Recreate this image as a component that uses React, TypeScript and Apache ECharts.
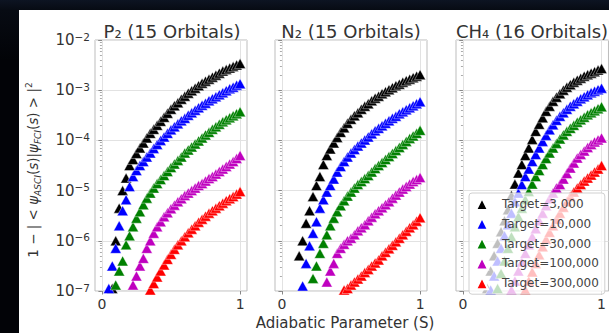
import React, { useEffect, useRef } from "react";
import * as echarts from "echarts";

// Adiabatic parameter grid (shared by all series; each series ends at S = 1)
const S = [
  0, 0.025, 0.05, 0.075, 0.1, 0.125, 0.15, 0.175, 0.2, 0.225, 0.25, 0.275, 0.3,
  0.325, 0.35, 0.375, 0.4, 0.425, 0.45, 0.475, 0.5, 0.525, 0.55, 0.575, 0.6,
  0.625, 0.65, 0.675, 0.7, 0.725, 0.75, 0.775, 0.8, 0.825, 0.85, 0.875, 0.9,
  0.925, 0.95, 0.975, 1.0,
];

const TARGETS = ["Target=3,000", "Target=10,000", "Target=30,000", "Target=100,000", "Target=300,000"];
const COLORS = ["#000000", "#0000ff", "#008000", "#bf00bf", "#ff0000"];
const PANEL_TITLES = ["P₂ (15 Orbitals)", "N₂ (15 Orbitals)", "CH₄ (16 Orbitals)"];
const X_TICKS = [0, 1];

// log10 of infidelity; each list covers the last S values
const p2Target3k = [-6.95, -6.0, -5.35, -5.0, -4.75, -4.5, -4.38, -4.26, -4.15, -4.05, -3.95, -3.86, -3.78, -3.7, -3.62, -3.54, -3.46, -3.38, -3.31, -3.25, -3.18, -3.12, -3.06, -3.01, -2.96, -2.91, -2.86, -2.82, -2.78, -2.74, -2.7, -2.66, -2.62, -2.59, -2.56, -2.53, -2.5, -2.47];
const p2Target10k = [-6.95, -6.5, -6.15, -5.7, -5.4, -5.18, -4.92, -4.72, -4.6, -4.5, -4.42, -4.33, -4.25, -4.16, -4.08, -4.0, -3.93, -3.86, -3.79, -3.73, -3.67, -3.61, -3.56, -3.5, -3.45, -3.4, -3.35, -3.3, -3.26, -3.21, -3.17, -3.13, -3.09, -3.05, -3.01, -2.97, -2.94, -2.9, -2.87];
const p2Target30k = [-6.88, -6.6, -6.4, -6.08, -5.9, -5.72, -5.55, -5.42, -5.28, -5.15, -5.05, -4.95, -4.86, -4.78, -4.7, -4.62, -4.54, -4.47, -4.4, -4.33, -4.25, -4.19, -4.13, -4.07, -4.01, -3.95, -3.89, -3.84, -3.78, -3.73, -3.68, -3.63, -3.59, -3.55, -3.51, -3.47, -3.43];
const p2Target100k = [-6.88, -6.7, -6.5, -6.35, -6.15, -6.0, -5.85, -5.72, -5.62, -5.52, -5.44, -5.36, -5.29, -5.22, -5.16, -5.1, -5.05, -5.0, -4.95, -4.9, -4.86, -4.81, -4.76, -4.72, -4.67, -4.62, -4.57, -4.52, -4.47, -4.42, -4.36, -4.3];
const p2Target300k = [-6.98, -6.85, -6.72, -6.6, -6.48, -6.37, -6.27, -6.17, -6.08, -6.0, -5.92, -5.84, -5.77, -5.7, -5.63, -5.57, -5.51, -5.45, -5.4, -5.35, -5.3, -5.25, -5.2, -5.16, -5.12, -5.07, -5.02];

const n2Target3k = [-6.3, -6.0, -5.65, -5.4, -5.12, -4.9, -4.72, -4.48, -4.3, -4.17, -4.05, -3.94, -3.84, -3.75, -3.66, -3.58, -3.51, -3.45, -3.38, -3.32, -3.27, -3.21, -3.16, -3.12, -3.07, -3.03, -2.99, -2.95, -2.91, -2.88, -2.84, -2.81, -2.78, -2.75, -2.72, -2.69];
const n2Target10k = [-6.9, -6.45, -6.1, -5.85, -5.62, -5.35, -5.18, -5.03, -4.9, -4.77, -4.63, -4.52, -4.42, -4.33, -4.25, -4.18, -4.11, -4.05, -3.99, -3.93, -3.87, -3.81, -3.76, -3.71, -3.66, -3.61, -3.56, -3.52, -3.47, -3.43, -3.39, -3.35, -3.31, -3.27, -3.23];
const n2Target30k = [-6.75, -6.5, -6.25, -6.05, -5.88, -5.7, -5.55, -5.42, -5.3, -5.2, -5.11, -5.03, -4.95, -4.88, -4.82, -4.76, -4.7, -4.63, -4.56, -4.5, -4.44, -4.38, -4.32, -4.26, -4.2, -4.14, -4.08, -4.02, -3.96, -3.91, -3.86, -3.8];
const n2Target100k = [-6.82, -6.6, -6.45, -6.25, -6.15, -6.07, -6.0, -5.95, -5.88, -5.8, -5.74, -5.68, -5.6, -5.53, -5.46, -5.4, -5.34, -5.28, -5.22, -5.15, -5.09, -5.03, -4.97, -4.92, -4.87, -4.82, -4.78, -4.74];
const n2Target300k = [-6.98, -6.95, -6.88, -6.82, -6.76, -6.7, -6.63, -6.57, -6.5, -6.44, -6.38, -6.3, -6.23, -6.16, -6.09, -6.02, -5.95, -5.88, -5.81, -5.74, -5.68, -5.61, -5.54];

const ch4Target3k = [-6.95, -6.6, -6.3, -6.05, -5.82, -5.6, -5.38, -5.1, -4.87, -4.65, -4.48, -4.3, -4.15, -3.98, -3.82, -3.68, -3.55, -3.42, -3.32, -3.22, -3.14, -3.07, -3.0, -2.94, -2.89, -2.84, -2.8, -2.76, -2.72, -2.69, -2.66, -2.63, -2.6, -2.57];
const ch4Target10k = [-6.98, -6.7, -6.4, -6.15, -5.9, -5.68, -5.45, -5.22, -5.05, -4.88, -4.72, -4.57, -4.42, -4.28, -4.15, -4.02, -3.9, -3.79, -3.69, -3.6, -3.52, -3.45, -3.38, -3.32, -3.27, -3.22, -3.17, -3.13, -3.09, -3.05, -3.02, -2.99, -2.96];
const ch4Target30k = [-6.95, -6.65, -6.4, -6.15, -5.92, -5.72, -5.52, -5.35, -5.18, -5.02, -4.87, -4.72, -4.6, -4.48, -4.36, -4.25, -4.15, -4.06, -3.97, -3.89, -3.82, -3.76, -3.7, -3.64, -3.59, -3.54, -3.49, -3.45, -3.41, -3.37, -3.33];
const ch4Target100k = [-6.98, -6.8, -6.6, -6.42, -6.25, -6.08, -5.92, -5.76, -5.6, -5.45, -5.3, -5.16, -5.05, -4.95, -4.88, -4.77, -4.66, -4.55, -4.45, -4.35, -4.28, -4.21, -4.14, -4.08, -4.03, -3.99, -3.95];
const ch4Target300k = [-6.98, -6.8, -6.62, -6.45, -6.28, -6.12, -5.97, -5.83, -5.7, -5.57, -5.45, -5.33, -5.22, -5.12, -5.03, -4.95, -4.88, -4.81, -4.75, -4.69, -4.63, -4.57, -4.5];

const PANELS = [
  [p2Target3k, p2Target10k, p2Target30k, p2Target100k, p2Target300k],
  [n2Target3k, n2Target10k, n2Target30k, n2Target100k, n2Target300k],
  [ch4Target3k, ch4Target10k, ch4Target30k, ch4Target100k, ch4Target300k],
];

const FONT = "DejaVu Sans";
const TEXT = "#333333";

function buildOption() {
  const grids = [
    { left: 76, top: 30, width: 152, height: 251 },
    { left: 256, top: 30, width: 152, height: 251 },
    { left: 437, top: 30, width: 154, height: 251 },
  ].map((g) => ({ ...g, show: true, borderColor: "#bdbdbd", borderWidth: 1, backgroundColor: "#ffffff", containLabel: false }));

  const xAxes = grids.map((_, i) => ({
    type: "value",
    gridIndex: i,
    min: -0.05,
    max: 1.05,
    axisLine: { show: false },
    axisTick: { show: true, customValues: X_TICKS, length: 3.5, lineStyle: { color: "#888" } },
    axisLabel: { show: true, customValues: X_TICKS, fontSize: 14, color: TEXT, fontFamily: FONT, margin: 6 },
    splitLine: { show: true, lineStyle: { color: "#e2e2e2", width: 1 } },
  }));

  const yAxes = grids.map((_, i) => ({
    type: "log",
    logBase: 10,
    gridIndex: i,
    min: 1e-7,
    max: 1e-2,
    axisLine: { show: false },
    axisTick: { show: true, length: 3.5, lineStyle: { color: "#888" } },
    minorTick: { show: true, splitNumber: 9, length: 2, lineStyle: { color: "#aaa" } },
    axisLabel: {
      show: i === 0,
      margin: 5,
      formatter: (v: number) => {
        const e = Math.round(Math.log10(v));
        return `{b|10}{s|−${Math.abs(e)}}`;
      },
      rich: {
        b: { fontSize: 15, lineHeight: 18, color: TEXT, fontFamily: FONT },
        s: { fontSize: 10.5, lineHeight: 10, color: TEXT, fontFamily: FONT, verticalAlign: "top" },
      },
    },
    splitLine: { show: true, lineStyle: { color: "#e2e2e2", width: 1 } },
  }));

  const series: any[] = [];
  PANELS.forEach((panel, p) => {
    panel.forEach((logs, t) => {
      const offset = S.length - logs.length;
      series.push({
        type: "scatter",
        name: TARGETS[t],
        xAxisIndex: p,
        yAxisIndex: p,
        symbol: "triangle",
        symbolSize: [11, 10],
        clip: true,
        silent: true,
        itemStyle: { color: COLORS[t], borderColor: "#ffffff", borderWidth: 0.4, opacity: 1 },
        data: logs.map((e, i) => [S[offset + i], Math.pow(10, e)]),
      });
    });
  });

  const titleCenters = [153, 332, 513];
  const graphics: any[] = PANEL_TITLES.map((t, i) => ({
    type: "text",
    x: titleCenters[i],
    y: 21,
    style: { text: t, fontSize: 18, fontFamily: FONT, fill: TEXT, align: "center", verticalAlign: "middle" },
  }));
  graphics.push({
    type: "text",
    x: 326,
    y: 313,
    style: { text: "Adiabatic Parameter (S)", fontSize: 15, fontFamily: FONT, fill: TEXT, align: "center", verticalAlign: "middle" },
  });
  graphics.push({
    type: "text",
    x: 14,
    y: 160,
    rotation: Math.PI / 2,
    style: {
      text: "{r|1 − | < }{i|ψ}{sub|ASCI}{r|(}{i|s}{r|)|}{i|ψ}{sub|FCI}{r|(}{i|s}{r|) > |}{sup|2}",
      align: "center",
      verticalAlign: "middle",
      fill: TEXT,
      rich: {
        r: { fontSize: 13.5, lineHeight: 18, fontFamily: FONT, fill: TEXT },
        i: { fontSize: 13.5, lineHeight: 18, fontFamily: FONT, fontStyle: "italic", fill: TEXT },
        sub: { fontSize: 9, lineHeight: 11, fontFamily: FONT, fontStyle: "italic", fill: TEXT, verticalAlign: "bottom" },
        sup: { fontSize: 9, lineHeight: 11, fontFamily: FONT, fill: TEXT, verticalAlign: "top" },
      },
    },
  });

  return {
    animation: false,
    backgroundColor: "#ffffff",
    textStyle: { fontFamily: FONT },
    grid: grids,
    xAxis: xAxes,
    yAxis: yAxes,
    legend: {
      data: TARGETS,
      orient: "vertical",
      left: 450,
      top: 183,
      icon: "triangle",
      itemWidth: 12,
      itemHeight: 12,
      itemGap: 5.8,
      padding: [4, 6, 4, 6],
      backgroundColor: "rgba(255,255,255,0.75)",
      borderColor: "#d0d0d0",
      borderWidth: 1,
      borderRadius: 3,
      selectedMode: false,
      textStyle: { fontSize: 12, color: "#444", fontFamily: FONT, padding: [0, 0, 0, 9], lineHeight: 12 },
    },
    graphic: graphics,
    series,
  };
}

export default function App() {
  const ref = useRef<HTMLDivElement>(null);
  useEffect(() => {
    document.body.style.margin = "0";
    document.body.style.background = "#03050a";
    const chart = echarts.init(ref.current!, null, { renderer: "svg" });
    chart.setOption(buildOption() as any);
    return () => chart.dispose();
  }, []);
  return (
    <div
      style={{
        position: "relative",
        width: 609,
        height: 333,
        overflow: "hidden",
        background: "linear-gradient(to bottom, #0d1422 0px, #070b13 10px, #020307 60px)",
      }}
    >
      <div ref={ref} style={{ position: "absolute", left: 19, top: 10, width: 590, height: 323 }} />
    </div>
  );
}
